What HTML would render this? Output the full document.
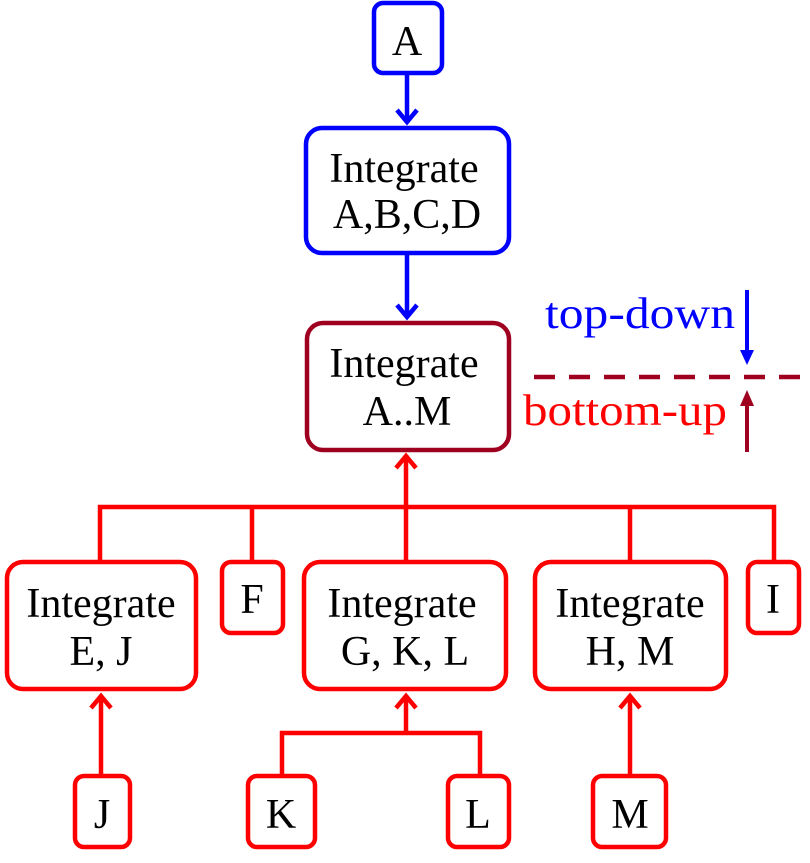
<!DOCTYPE html>
<html><head><style>body{margin:0;background:#fff}svg{display:block}</style></head><body>
<svg width="810" height="863" viewBox="0 0 810 863" xmlns="http://www.w3.org/2000/svg" font-family="Liberation Serif, serif">
<g fill="none" stroke-width="4.5" stroke-linecap="butt">
<g stroke="#0000ff">
<rect x="374" y="3" width="68" height="70" rx="9"/>
<rect x="306" y="128" width="203" height="125" rx="16"/>
<line x1="407" y1="73" x2="407" y2="122"/>
<polyline points="397,110 407,122 417,110"/>
<line x1="407" y1="253" x2="407" y2="317"/>
<polyline points="397,305 407,317 417,305"/>
</g>
<rect x="307" y="323" width="202" height="127" rx="16" stroke="#a00020"/>
<g stroke="#ff0000">
<line x1="406" y1="455" x2="406" y2="561"/>
<polyline points="396,468 406,456 416,468"/>
<polyline points="100,561 100,507 774,507 774,561"/>
<line x1="252" y1="507" x2="252" y2="561"/>
<line x1="630" y1="507" x2="630" y2="561"/>
<rect x="7" y="562" width="189" height="127" rx="16"/>
<rect x="222" y="562" width="61" height="71" rx="9"/>
<rect x="304" y="562" width="202" height="127" rx="16"/>
<rect x="535" y="562" width="191" height="127" rx="16"/>
<rect x="748" y="562" width="51" height="71" rx="9"/>
<rect x="75" y="776" width="55" height="71" rx="9"/>
<rect x="248" y="776" width="67" height="71" rx="9"/>
<rect x="448" y="776" width="61" height="71" rx="9"/>
<rect x="593" y="776" width="73" height="71" rx="9"/>
<line x1="101" y1="776" x2="101" y2="696"/>
<polyline points="91,708 101,696 111,708"/>
<line x1="630" y1="776" x2="630" y2="696"/>
<polyline points="620,708 630,696 640,708"/>
<polyline points="282,776 282,733 480,733 480,776"/>
<line x1="406" y1="733" x2="406" y2="696"/>
<polyline points="396,708 406,696 416,708"/>
</g>
<line x1="534" y1="377" x2="800" y2="377" stroke="#a00020" stroke-width="4.5" stroke-dasharray="21,14"/>
<line x1="747" y1="290" x2="747" y2="352" stroke="#0000ff" stroke-width="4"/>
<line x1="747" y1="452" x2="747" y2="404" stroke="#a00020" stroke-width="4"/>
</g>
<polygon points="740,350 754,350 747,365" fill="#0000ff"/>
<polygon points="740,406 754,406 747,390" fill="#a00020"/>
<g font-size="42" text-anchor="middle" fill="#000">
<text x="407" y="55">A</text>
<text x="404" y="182">Integrate</text>
<text x="407" y="228">A,B,C,D</text>
<text x="404" y="377">Integrate</text>
<text x="407" y="425">A..M</text>
<text x="101" y="617">Integrate</text>
<text x="101" y="665">E, J</text>
<text x="252" y="613">F</text>
<text x="402" y="617">Integrate</text>
<text x="405" y="665">G, K, L</text>
<text x="630" y="617">Integrate</text>
<text x="630" y="665">H, M</text>
<text x="773" y="613">I</text>
<text x="102" y="828">J</text>
<text x="281" y="828">K</text>
<text x="478" y="828">L</text>
<text x="630" y="828">M</text>
</g>
<text x="545" y="328" font-size="44" textLength="190" lengthAdjust="spacingAndGlyphs" fill="#0000ff">top-down</text>
<text x="523" y="425" font-size="44" textLength="204" lengthAdjust="spacingAndGlyphs" fill="#ff0000">bottom-up</text>
</svg>
</body></html>
